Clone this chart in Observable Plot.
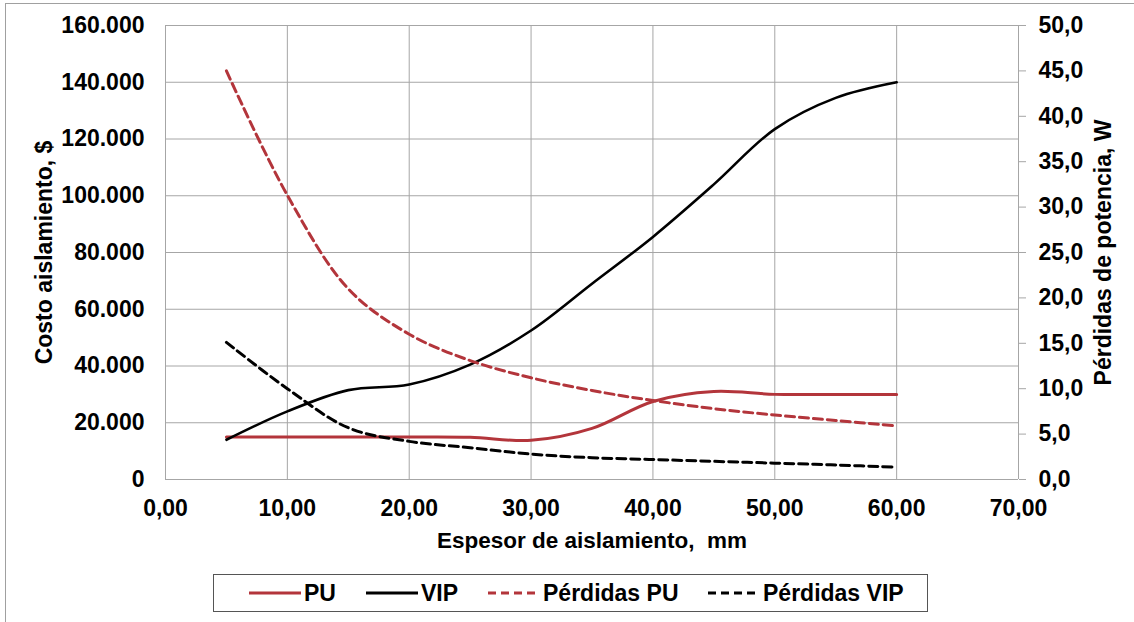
<!DOCTYPE html>
<html><head><meta charset="utf-8">
<script src="https://cdn.jsdelivr.net/npm/d3@7"></script>
<script src="https://cdn.jsdelivr.net/npm/@observablehq/plot@0.6"></script>
<style>
body{margin:0;background:#fff;font-family:"Liberation Sans",Arial,sans-serif;}
#wrap{position:relative;width:1134px;height:622px;overflow:hidden;background:#fff;}
#frame{position:absolute;left:5px;top:3px;width:1140px;height:640px;border:1px solid #a0a0a0;}
#chart{position:absolute;left:0;top:0;}
#legend{position:absolute;left:213px;top:574px;width:715px;height:38px;border:1px solid #555;box-sizing:border-box;}
.li{position:absolute;top:0;height:36px;display:flex;align-items:center;font-weight:bold;font-size:23px;}
.li svg{display:block;margin-right:3px;}
</style></head>
<body><div id="wrap"><div id="frame"></div><div id="chart"></div><div id="legend"></div></div>
<script>
// data
const espesor = [5,10,15,20,25,30,35,40,45,50,55,60];
const costoPU = [15000,15000,15000,15000,14900,13800,18000,27500,31000,30000,30000,30000];
const costoVIP = [14000,24000,31500,33500,40500,52500,69000,85500,104000,123500,134500,140000];
const perdidasPU = [45,31.3,21,16,13.1,11.2,9.8,8.7,7.8,7.1,6.5,5.9];
const perdidasVIP = [15.1,10,5.7,4.2,3.5,2.8,2.4,2.2,2.0,1.8,1.6,1.35];
const leftTicks = [0,20000,40000,60000,80000,100000,120000,140000,160000];
const rightTicks = [0,5,10,15,20,25,30,35,40,45,50];
const xTicks = [0,10,20,30,40,50,60,70];
const seriesNames = ["PU","VIP","Pérdidas PU","Pérdidas VIP"];

const RED = "#b3353b";
const K = 160000/50; // right axis -> left scale
const mk = (arr) => espesor.map((x,i)=>({x, v: arr[i]}));
const sPU = mk(costoPU), sVIP = mk(costoVIP), sPPU = mk(perdidasPU), sPVIP = mk(perdidasVIP);
const fmtL = d => d === 0 ? "0" : d3.format(",")(d).replace(/,/g,".");
const fmtR = d => (d/K).toFixed(1).replace(".",",");
const fmtX = d => d.toFixed(2).replace(".",",");
const GRID = "#a6a6a6";

const plot = Plot.plot({
  width: 1134, height: 565,
  marginLeft: 165, marginRight: 116, marginTop: 25, marginBottom: 86,
  style: {fontFamily: '"Liberation Sans", Arial, sans-serif', fontSize: "23px", fontWeight: "bold", background: "transparent", color: "#000"},
  x: {domain: [0,70]},
  y: {domain: [0,160000]},
  marks: [
    Plot.gridY(leftTicks, {stroke: GRID, strokeOpacity: 1}),
    Plot.gridX(xTicks, {stroke: GRID, strokeOpacity: 1}),
    Plot.axisY(leftTicks, {anchor: "left", tickSize: 0, tickPadding: 21, tickFormat: fmtL, label: null}),
    Plot.axisY(rightTicks.map(v=>v*K), {anchor: "right", tickSize: 7, tickPadding: 13, stroke: GRID, tickFormat: fmtR, label: null}),
    Plot.axisX(xTicks, {tickSize: 0, tickPadding: 20, tickFormat: fmtX, label: null}),
    Plot.ruleX([70], {stroke: GRID}),
    Plot.lineY(sPU, {x: "x", y: "v", stroke: RED, strokeWidth: 3, curve: "catmull-rom"}),
    Plot.lineY(sVIP, {x: "x", y: "v", stroke: "#000", strokeWidth: 2.6, curve: "catmull-rom"}),
    Plot.lineY(sPPU, {x: "x", y: d => d.v*K, stroke: RED, strokeWidth: 3, strokeDasharray: "9,5", curve: "catmull-rom"}),
    Plot.lineY(sPVIP, {x: "x", y: d => d.v*K, stroke: "#000", strokeWidth: 3, strokeDasharray: "9,5", curve: "catmull-rom"}),
    Plot.text(["Costo aislamiento, $"], {frameAnchor: "left", dx: -121, rotate: -90, textAnchor: "middle", lineAnchor: "middle", fontSize: 23, fontWeight: "bold"}),
    Plot.text(["Pérdidas de potencia, W"], {frameAnchor: "right", dx: 85, rotate: -90, textAnchor: "middle", lineAnchor: "middle", fontSize: 23, fontWeight: "bold"}),
    Plot.text(["Espesor de aislamiento,  mm"], {frameAnchor: "bottom", dy: 61, textAnchor: "middle", lineAnchor: "middle", fontSize: 22.5, fontWeight: "bold"})
  ]
});
document.getElementById("chart").appendChild(plot);

// legend
const legendItems = [
  {name: seriesNames[0], color: RED, dash: null, left: 35},
  {name: seriesNames[1], color: "#000", dash: null, left: 152},
  {name: seriesNames[2], color: RED, dash: "8,5", left: 274},
  {name: seriesNames[3], color: "#000", dash: "8,5", left: 494}
];
const lg = document.getElementById("legend");
for (const it of legendItems) {
  const d = document.createElement("div");
  d.className = "li"; d.style.left = it.left + "px";
  d.innerHTML = `<svg width="52" height="10"><line x1="0" y1="5" x2="52" y2="5" stroke="${it.color}" stroke-width="3" ${it.dash ? `stroke-dasharray="${it.dash}"` : ""}/></svg><span></span>`;
  d.querySelector("span").textContent = it.name;
  lg.appendChild(d);
}
</script></body></html>
